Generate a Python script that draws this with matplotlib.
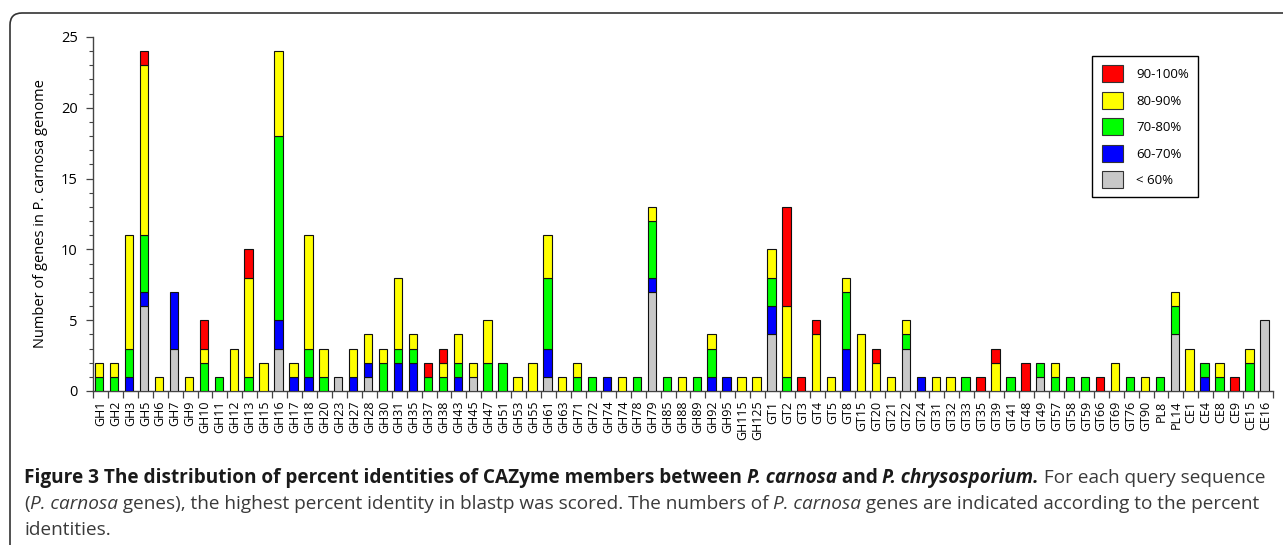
import matplotlib
matplotlib.use("Agg")
import matplotlib.pyplot as plt
import numpy as np
from matplotlib.patches import FancyBboxPatch, Patch

plt.rcParams['font.family'] = ['Open Sans', 'DejaVu Sans']

# CAZyme families (x axis)
cats = ["GH1", "GH2", "GH3", "GH5", "GH6", "GH7", "GH9", "GH10", "GH11", "GH12",
        "GH13", "GH15", "GH16", "GH17", "GH18", "GH20", "GH23", "GH27", "GH28", "GH30",
        "GH31", "GH35", "GH37", "GH38", "GH43", "GH45", "GH47", "GH51", "GH53", "GH55",
        "GH61", "GH63", "GH71", "GH72", "GH74", "GH74", "GH78", "GH79", "GH85", "GH88",
        "GH89", "GH92", "GH95", "GH115", "GH125", "GT1", "GT2", "GT3", "GT4", "GT5",
        "GT8", "GT15", "GT20", "GT21", "GT22", "GT24", "GT31", "GT32", "GT33", "GT35",
        "GT39", "GT41", "GT48", "GT49", "GT57", "GT58", "GT59", "GT66", "GT69", "GT76",
        "GT90", "PL8", "PL14", "CE1", "CE4", "CE8", "CE9", "CE15", "CE16"]

# number of genes per identity class
lt60 = [0, 0, 0, 6, 0, 3, 0, 0, 0, 0,
        0, 0, 3, 0, 0, 0, 1, 0, 1, 0,
        0, 0, 0, 0, 0, 1, 0, 0, 0, 0,
        1, 0, 0, 0, 0, 0, 0, 7, 0, 0,
        0, 0, 0, 0, 0, 4, 0, 0, 0, 0,
        0, 0, 0, 0, 3, 0, 0, 0, 0, 0,
        0, 0, 0, 1, 0, 0, 0, 0, 0, 0,
        0, 0, 4, 0, 0, 0, 0, 0, 5]
p60_70 = [0, 0, 1, 1, 0, 4, 0, 0, 0, 0,
          0, 0, 2, 1, 1, 0, 0, 1, 1, 0,
          2, 2, 0, 0, 1, 0, 0, 0, 0, 0,
          2, 0, 0, 0, 1, 0, 0, 1, 0, 0,
          0, 1, 1, 0, 0, 2, 0, 0, 0, 0,
          3, 0, 0, 0, 0, 1, 0, 0, 0, 0,
          0, 0, 0, 0, 0, 0, 0, 0, 0, 0,
          0, 0, 0, 0, 1, 0, 0, 0, 0]
p70_80 = [1, 1, 2, 4, 0, 0, 0, 2, 1, 0,
          1, 0, 13, 0, 2, 1, 0, 0, 0, 2,
          1, 1, 1, 1, 1, 0, 2, 2, 0, 0,
          5, 0, 1, 1, 0, 0, 1, 4, 1, 0,
          1, 2, 0, 0, 0, 2, 1, 0, 0, 0,
          4, 0, 0, 0, 1, 0, 0, 0, 1, 0,
          0, 1, 0, 1, 1, 1, 1, 0, 0, 1,
          0, 1, 2, 0, 1, 1, 0, 2, 0]
p80_90 = [1, 1, 8, 12, 1, 0, 1, 1, 0, 3,
          7, 2, 6, 1, 8, 2, 0, 2, 2, 1,
          5, 1, 0, 1, 2, 1, 3, 0, 1, 2,
          3, 1, 1, 0, 0, 1, 0, 1, 0, 1,
          0, 1, 0, 1, 1, 2, 5, 0, 4, 1,
          1, 4, 2, 1, 1, 0, 1, 1, 0, 0,
          2, 0, 0, 0, 1, 0, 0, 0, 2, 0,
          1, 0, 1, 3, 0, 1, 0, 1, 0]
p90_100 = [0, 0, 0, 1, 0, 0, 0, 2, 0, 0,
           2, 0, 0, 0, 0, 0, 0, 0, 0, 0,
           0, 0, 1, 1, 0, 0, 0, 0, 0, 0,
           0, 0, 0, 0, 0, 0, 0, 0, 0, 0,
           0, 0, 0, 0, 0, 0, 7, 1, 1, 0,
           0, 0, 1, 0, 0, 0, 0, 0, 0, 1,
           1, 0, 2, 0, 0, 0, 0, 1, 0, 0,
           0, 0, 0, 0, 0, 0, 1, 0, 0]

classes = ["< 60%", "60-70%", "70-80%", "80-90%", "90-100%"]
colors = ["#c8c8c8", "#0000ff", "#00ff00", "#ffff00", "#ff0000"]
series = [lt60, p60_70, p70_80, p80_90, p90_100]

W, H = 1283, 545
fig = plt.figure(figsize=(W / 100, H / 100), dpi=100)
ax = fig.add_axes([93 / W, 154 / H, 1180 / W, 354 / H])

x = np.arange(len(cats))
bottom = np.zeros(len(cats))
for vals, col in zip(series, colors):
    v = np.array(vals, dtype=float)
    m = v > 0
    ax.bar(x[m] - 0.08, v[m], bottom=bottom[m], width=0.56, color=col,
           edgecolor="#111111", linewidth=0.8, zorder=3)
    bottom += v

ax.set_xlim(-0.5, len(cats) - 0.5)
ax.set_ylim(0, 25)
ax.set_yticks(np.arange(0, 26, 5))
ax.set_yticks(np.arange(0, 26, 1), minor=True)
ax.set_xticks(x)
ax.set_xticklabels(cats, rotation=90, fontsize=9)
ax.set_xticks(np.arange(-0.5, len(cats), 1), minor=True)
ax.tick_params(axis="x", which="major", length=0, pad=7)
ax.tick_params(axis="x", which="minor", length=5, width=0.9, color="#444444", direction="out")
ax.tick_params(axis="y", which="major", length=5, width=0.9, color="#444444", labelsize=10.5, pad=6)
ax.tick_params(axis="y", which="minor", length=3, width=0.8, color="#444444")
for s in ["top", "right"]:
    ax.spines[s].set_visible(False)
for s in ["left", "bottom"]:
    ax.spines[s].set_color("#444444")
    ax.spines[s].set_linewidth(1.0)
ax.set_ylabel("Number of genes in P. carnosa genome", fontsize=10.5, labelpad=9)

handles = [Patch(facecolor=c, edgecolor="#333333", linewidth=0.8) for c in colors]
leg = ax.legend(handles[::-1], classes[::-1], loc="upper left",
                bbox_to_anchor=(0.847, 0.946), borderaxespad=0, fontsize=9.5,
                handlelength=1.6, handleheight=1.6, labelspacing=0.72,
                handletextpad=1.0, borderpad=0.7, fancybox=False,
                edgecolor="black", framealpha=1)
leg.get_frame().set_linewidth(1.0)

# rounded frame around the figure panel
frame = FancyBboxPatch((10, -40), W + 40, H - 13 + 40,
                       boxstyle="round,pad=0,rounding_size=12",
                       transform=None, facecolor="none", edgecolor="#333333",
                       linewidth=1.2)
fig.add_artist(frame)

# caption with mixed styles
lines = [
    [("Figure 3 The distribution of percent identities of CAZyme members between ", "bold", "normal"),
     ("P. carnosa", "bold", "italic"),
     (" and ", "bold", "normal"),
     ("P. chrysosporium.", "bold", "italic"),
     (" For each query sequence", "normal", "normal")],
    [("(", "normal", "normal"),
     ("P. carnosa", "normal", "italic"),
     (" genes), the highest percent identity in blastp was scored. The numbers of ", "normal", "normal"),
     ("P. carnosa", "normal", "italic"),
     (" genes are indicated according to the percent", "normal", "normal")],
    [("identities.", "normal", "normal")],
]
renderer = fig.canvas.get_renderer()


def draw_line(segs, x0, y0, size):
    xx = x0
    for txt, wt, st in segs:
        col = "#1a1a1a" if wt == "bold" else "#3a3a3a"
        t = fig.text(xx / W, 1 - y0 / H, txt, fontsize=size, fontweight=wt,
                     fontstyle=st, color=col, va="baseline", ha="left")
        xx += t.get_window_extent(renderer).width
    return xx


size = 11
tmp = draw_line(lines[0], 24, -100, size) - 24
for t in list(fig.texts):
    t.remove()
size = size * 1246 / tmp
for i, segs in enumerate(lines):
    draw_line(segs, 24, 483 + 26 * i, size)

fig.savefig("out.png", dpi=100)
